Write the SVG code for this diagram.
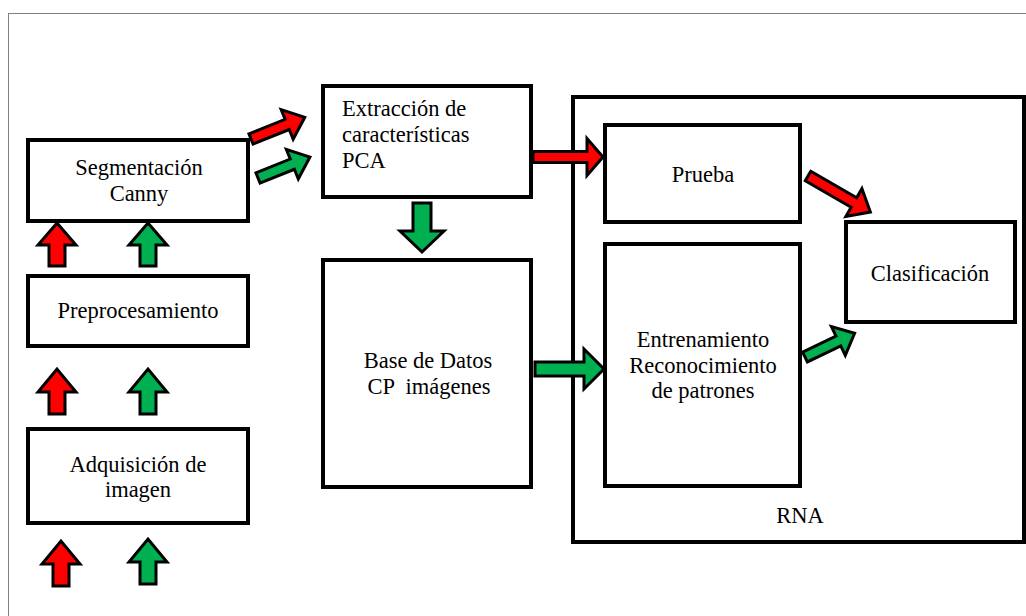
<svg xmlns="http://www.w3.org/2000/svg" width="1026" height="616" viewBox="0 0 1026 616">
<style>
.box{fill:#fff;stroke:#000;stroke-width:4}
text{font-family:'Liberation Serif','DejaVu Serif','Times New Roman',serif;font-size:22.5px;fill:#000}
.c{text-anchor:middle}
.red{fill:#FF0000;stroke:#000;stroke-width:3;stroke-linejoin:miter}
.grn{fill:#00B050;stroke:#000;stroke-width:3;stroke-linejoin:miter}
</style>
<rect width="1026" height="616" fill="#fff"/>
<rect x="8.5" y="13.5" width="1030" height="620" fill="none" stroke="#808080" stroke-width="1"/>
<g id="rna">
<rect class="box" x="573" y="97" width="451" height="445"/>
<text class="c" x="800" y="523">RNA</text>
</g>
<g id="segmentacion">
<rect class="box" x="28" y="140" width="220" height="81"/>
<text class="c" x="139" y="175">Segmentación</text>
<text class="c" x="139" y="201">Canny</text>
</g>
<g id="preprocesamiento">
<rect class="box" x="28" y="276" width="220" height="70"/>
<text class="c" x="138" y="318">Preprocesamiento</text>
</g>
<g id="adquisicion">
<rect class="box" x="28" y="429" width="220" height="94"/>
<text class="c" x="138" y="472">Adquisición de</text>
<text class="c" x="138" y="497">imagen</text>
</g>
<g id="extraccion">
<rect class="box" x="323" y="86" width="208" height="111"/>
<text x="342" y="116">Extracción de</text>
<text x="342" y="142">características</text>
<text x="342" y="168">PCA</text>
</g>
<g id="basedatos">
<rect class="box" x="323" y="260" width="208" height="227"/>
<text class="c" x="428" y="368">Base de Datos</text>
<text class="c" x="429" y="394" xml:space="preserve">CP  imágenes</text>
</g>
<g id="prueba">
<rect class="box" x="605" y="125" width="195" height="97"/>
<text class="c" x="703" y="182">Prueba</text>
</g>
<g id="entrenamiento">
<rect class="box" x="605" y="244" width="195" height="242"/>
<text class="c" x="703" y="347">Entrenamiento</text>
<text class="c" x="703" y="373">Reconocimiento</text>
<text class="c" x="703" y="398">de patrones</text>
</g>
<g id="clasificacion">
<rect class="box" x="846" y="222" width="169" height="100"/>
<text class="c" x="930" y="281">Clasificación</text>
</g>
<g id="connectors">
<path class="red" transform="translate(57,266) rotate(-90)" d="M0,-8 L21,-8 L21,-19 L43,0 L21,19 L21,8 L0,8 Z"/>
<path class="grn" transform="translate(148,266) rotate(-90)" d="M0,-8 L21,-8 L21,-19 L43,0 L21,19 L21,8 L0,8 Z"/>
<path class="red" transform="translate(57,414) rotate(-90)" d="M0,-8 L22,-8 L22,-19 L45,0 L22,19 L22,8 L0,8 Z"/>
<path class="grn" transform="translate(148,414) rotate(-90)" d="M0,-8 L22,-8 L22,-19 L45,0 L22,19 L22,8 L0,8 Z"/>
<path class="red" transform="translate(61,586) rotate(-90)" d="M0,-8 L22,-8 L22,-19 L45,0 L22,19 L22,8 L0,8 Z"/>
<path class="grn" transform="translate(148,584) rotate(-90)" d="M0,-8 L22,-8 L22,-19 L45,0 L22,19 L22,8 L0,8 Z"/>
<path class="red" transform="translate(251,139) rotate(-22)" d="M0,-5.5 L39,-5.5 L39,-16 L58,0 L39,16 L39,5.5 L0,5.5 Z"/>
<path class="grn" transform="translate(258,178) rotate(-22)" d="M0,-5.5 L37,-5.5 L37,-16 L56,0 L37,16 L37,5.5 L0,5.5 Z"/>
<path class="grn" transform="translate(422,203) rotate(90)" d="M0,-9 L28,-9 L28,-22 L49,0 L28,22 L28,9 L0,9 Z"/>
<path class="red" transform="translate(533,157)" d="M0,-5.5 L54,-5.5 L54,-18.5 L70,0 L54,18.5 L54,5.5 L0,5.5 Z"/>
<path class="grn" transform="translate(535,369)" d="M0,-7 L49,-7 L49,-20 L69,0 L49,20 L49,7 L0,7 Z"/>
<path class="red" transform="translate(808,176) rotate(30)" d="M0,-5.5 L53,-5.5 L53,-16 L72,0 L53,16 L53,5.5 L0,5.5 Z"/>
<path class="grn" transform="translate(805,357) rotate(-25.6)" d="M0,-5.5 L37,-5.5 L37,-16 L55,0 L37,16 L37,5.5 L0,5.5 Z"/>
</g>
</svg>
